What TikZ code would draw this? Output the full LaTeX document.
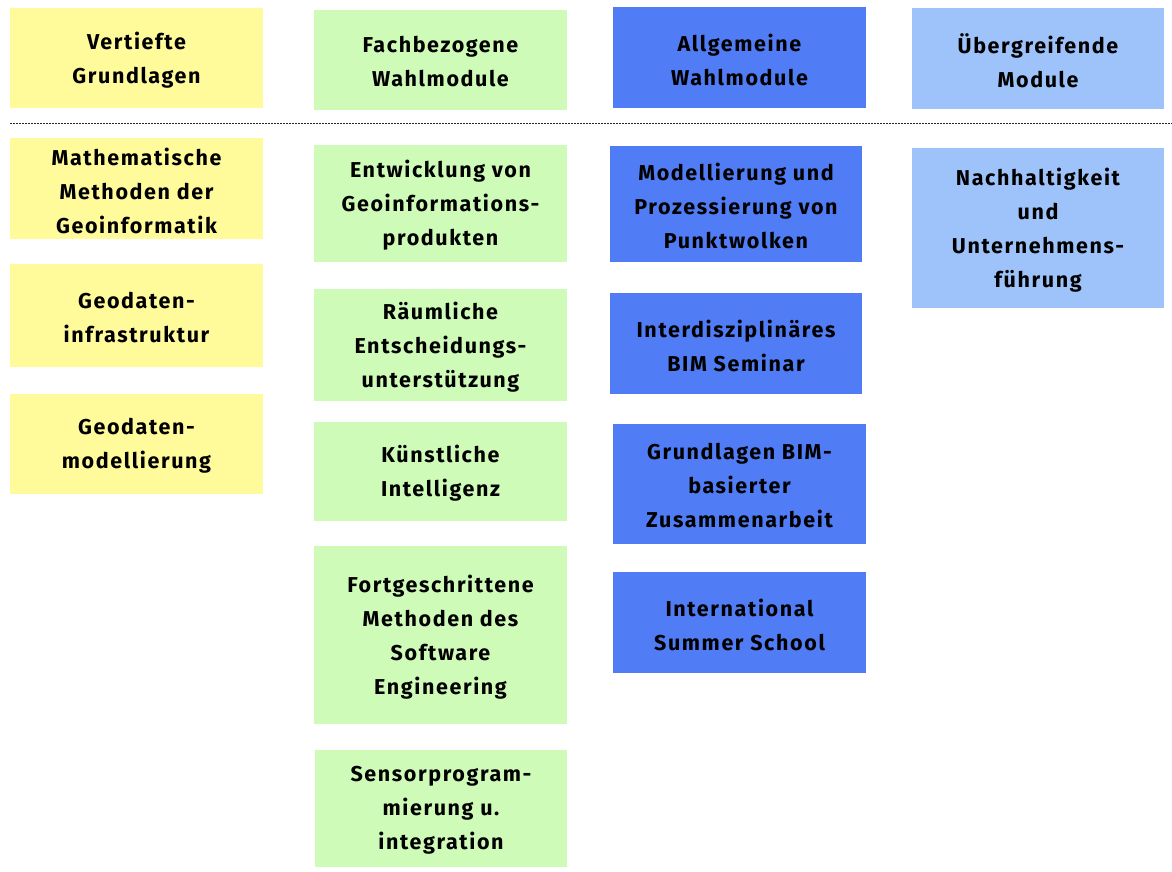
\documentclass[tikz,border=0pt]{standalone}
\usepackage{fontspec}
\setmainfont{Fira Sans}[UprightFont=* Bold, LetterSpace=7.5]
\definecolor{cyel}{RGB}{255,251,154}
\definecolor{cgrn}{RGB}{207,251,184}
\definecolor{cblu}{RGB}{80,124,245}
\definecolor{clbl}{RGB}{157,195,250}
\begin{document}
\begin{tikzpicture}[x=1pt,y=-1pt,
  box/.style={inner sep=0pt, outer sep=0pt},
  txt/.style={inner sep=0pt, align=center, text=black,
    font=\fontsize{21.5}{34}\selectfont},
  yel/.style={box, fill=cyel},
  grn/.style={box, fill=cgrn},
  blu/.style={box, fill=cblu},
  lbl/.style={box, fill=clbl},
  sep/.style={draw=black!85, line width=0.8pt, dash pattern=on 2pt off 1pt}]
\useasboundingbox (0,0) rectangle (1172,872);
\newcommand{\mybox}[7]{%
  \node[#1, minimum width=#4-#2, minimum height=#5-#3] (#6) at ({(#2+#4)/2},{(#3+#5)/2}) {};
  \node[txt] (#6-t) at ([yshift=-2pt]#6.center) {#7};}
% column 1
\mybox{yel}{10}{8}{263}{108}{h1}{Vertiefte\\Grundlagen}
\mybox{yel}{10}{138}{263}{239}{a1}{Mathematische\\Methoden der\\Geoinformatik}
\mybox{yel}{10}{264}{263}{367}{a2}{Geodaten-\\infrastruktur}
\mybox{yel}{10}{394}{263}{494}{a3}{Geodaten-\\modellierung}
% column 2
\mybox{grn}{314}{10}{567}{110}{h2}{Fachbezogene\\Wahlmodule}
\mybox{grn}{314}{145}{567}{262}{b1}{Entwicklung von\\Geoinformations-\\produkten}
\mybox{grn}{314}{289}{567}{401}{b2}{Räumliche\\Entscheidungs-\\unterstützung}
\mybox{grn}{314}{422}{567}{521}{b3}{Künstliche\\Intelligenz}
\mybox{grn}{314}{546}{567}{724}{b4}{Fortgeschrittene\\Methoden des\\Software\\Engineering}
\mybox{grn}{315}{750}{567}{867}{b5}{Sensorprogram-\\mierung u.\\integration}
% column 3
\mybox{blu}{613}{7}{866}{108}{h3}{Allgemeine\\Wahlmodule}
\mybox{blu}{610}{146}{862}{262}{c1}{Modellierung und\\Prozessierung von\\Punktwolken}
\mybox{blu}{610}{293}{862}{394}{c2}{Interdisziplinäres\\BIM Seminar}
\mybox{blu}{613}{424}{866}{544}{c3}{Grundlagen BIM-\\basierter\\Zusammenarbeit}
\mybox{blu}{613}{572}{866}{673}{c4}{International\\Summer School}
% column 4
\mybox{lbl}{912}{8}{1164}{109}{h4}{Übergreifende\\Module}
\mybox{lbl}{912}{148}{1164}{308}{d1}{Nachhaltigkeit\\und\\Unternehmens-\\führung}
% separator
\coordinate (sl) at (10,123);
\coordinate (sr) at (1172,123);
\draw[sep] (sl) -- (sr);
\end{tikzpicture}
\end{document}
